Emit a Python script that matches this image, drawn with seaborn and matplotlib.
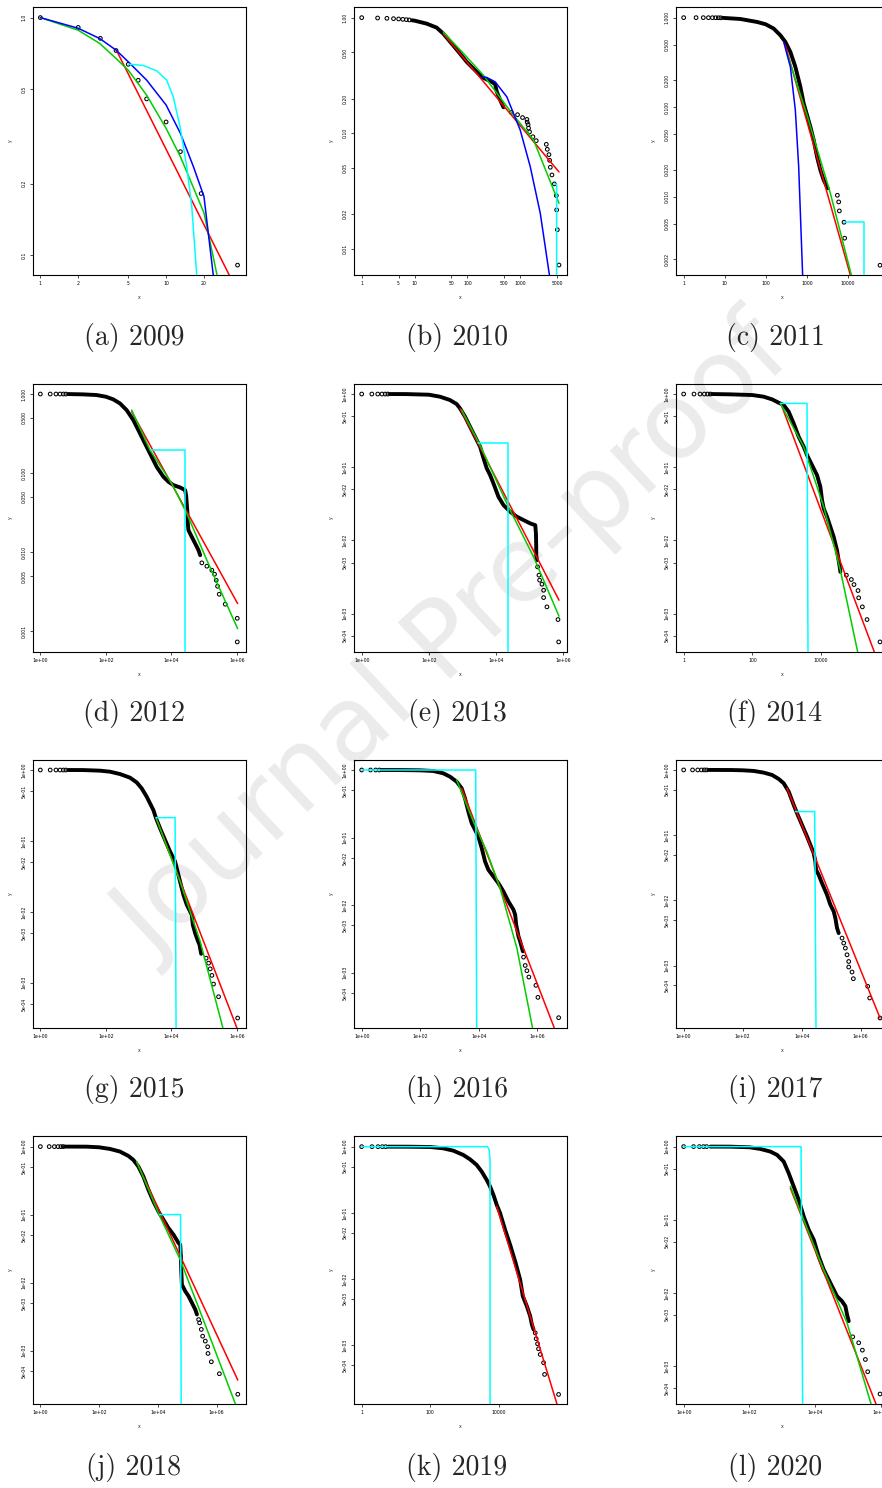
import numpy as np
import pandas as pd
import seaborn as sns
import matplotlib.pyplot as plt

# pts_* = individual hollow circles, body_* = dense part (thick band of overlapping circles)
pts_2009 = [(1, 1.0), (2, 0.909), (3, 0.818), (4, 0.727), (5, 0.636), (6, 0.545), (7, 0.455),
            (10, 0.364), (13, 0.273), (19, 0.182), (37, 0.091)]
body_2009 = []
red_2009 = [(4.04, 0.726), (34, 0.077)]
green_2009 = [(1, 1.0), (2, 0.885), (2.97, 0.778), (4, 0.673), (5, 0.601), (7, 0.472), (10, 0.342),
              (13, 0.26), (20, 0.151), (25.4, 0.0827)]
blue_2009 = [(1, 1.0), (2, 0.902), (2.97, 0.816), (4, 0.73), (5, 0.652), (7, 0.546), (10, 0.429),
             (13, 0.326), (16.5, 0.236), (20, 0.177), (23.9, 0.08)]
cyan_2009 = [(5, 0.637), (6.6, 0.629), (8.43, 0.597), (10.1, 0.546), (11.4, 0.465), (12.9, 0.348),
             (14.6, 0.236), (16, 0.161), (17.6, 0.08)]

pts_2010 = [(1, 1.0), (2, 0.993), (3, 0.987), (4, 0.98), (5, 0.974), (6, 0.967), (7, 0.961), (8, 0.955),
            (675, 0.152), (890, 0.145), (1107, 0.137), (1339, 0.132), (1358, 0.125), (1411, 0.119),
            (1440, 0.111), (1504, 0.103), (1740, 0.0935), (2013, 0.0865), (3118, 0.0804), (3258, 0.0728),
            (3500, 0.0655), (3606, 0.0585), (3715, 0.0509), (3993, 0.0437), (4425, 0.0366), (4830, 0.029),
            (4898, 0.0218), (5045, 0.0147), (5420, 0.00728)]
body_2010 = [(9, 0.948), (10, 0.942), (16.9, 0.888), (26.2, 0.82), (35, 0.728), (50.4, 0.597), (72.6, 0.489),
             (97.1, 0.415), (130, 0.363), (187, 0.308), (233, 0.292), (290, 0.279), (335, 0.266),
             (361, 0.229), (417, 0.194), (483, 0.168)]
red_2010 = [(35, 0.728), (5420, 0.0464)]
green_2010 = [(35, 0.752), (97.1, 0.458), (201, 0.318), (675, 0.152), (1791, 0.0876), (5420, 0.0249)]
blue_2010 = [(187, 0.308), (233, 0.304), (335, 0.279), (558, 0.207), (1000, 0.107), (1549, 0.0516),
             (2399, 0.0204), (3606, 0.0058)]
cyan_2010 = [(4295, 0.0366), (4898, 0.0362), (4898, 0.005)]

pts_2011 = [(1, 1.0), (2, 1.0), (3, 1.0), (4, 0.999), (5, 0.999), (6, 0.998), (7, 0.997), (8, 0.996),
            (5485, 0.01035), (5908, 0.00872), (6132, 0.00692), (7962, 0.00517), (8260, 0.00343),
            (59800, 0.00171)]
body_2011 = [(9, 0.995), (10, 0.991), (23.9, 0.966), (60.9, 0.895), (98.9, 0.843), (155, 0.754), (225, 0.635),
             (298, 0.535), (394, 0.414), (521, 0.282), (690, 0.169), (831, 0.11), (1002, 0.0814),
             (1208, 0.0604), (1456, 0.0429), (1754, 0.0279), (2115, 0.0198), (2549, 0.0153), (3190, 0.0124)]
red_2011 = [(298, 0.491), (11350, 0.00133)]
green_2011 = [(327, 0.397), (1002, 0.0814), (3704, 0.0109), (12000, 0.00133)]
blue_2011 = [(271, 0.535), (394, 0.282), (521, 0.0926), (628, 0.0216), (785, 0.0013)]
cyan_2011 = [(7962, 0.00517), (24900, 0.00517), (24900, 0.0012)]

pts_2012 = [(1, 1.0), (2, 1.0), (3, 1.0), (4, 1.0), (5, 1.0), (6, 0.999),
            (84900, 0.00733), (120800, 0.00665), (171700, 0.00592), (207000, 0.00527), (233000, 0.00442),
            (256000, 0.00371), (288000, 0.00294), (439000, 0.0022), (1023000, 0.00146), (1023000, 0.000733)]
body_2012 = [(7.03, 0.999), (20.2, 0.99), (51.8, 0.971), (100, 0.925), (168, 0.856), (268, 0.762), (429, 0.627),
             (687, 0.469), (1099, 0.318), (1758, 0.215), (2500, 0.161), (3557, 0.12), (5690, 0.0899),
             (8090, 0.0777), (11500, 0.0705), (18400, 0.0659), (26200, 0.0609), (28100, 0.0527),
             (29400, 0.0413), (30900, 0.0309), (31600, 0.0231), (33100, 0.019), (41900, 0.0156),
             (53000, 0.0129), (67100, 0.0106), (75500, 0.00916)]
red_2012 = [(611, 0.598), (1.05e6, 0.00224)]
green_2012 = [(611, 0.627), (2223, 0.195), (10240, 0.074), (29400, 0.0309), (120800, 0.00792), (1.05e6, 0.00108)]
blue_2012 = []
cyan_2012 = [(2330, 0.1955), (26800, 0.1955), (26800, 0.0005)]

pts_2013 = [(1, 1.0), (2, 1.0), (3, 1.0), (4, 1.0), (5, 1.0), (6, 1.0),
            (171000, 0.00436), (188000, 0.00336), (197000, 0.00287), (231000, 0.00253), (259000, 0.00209),
            (259000, 0.00166), (325000, 0.00124), (693000, 0.000832), (726000, 0.000412)]
body_2013 = [(6.85, 1.0), (21.5, 0.998), (100, 0.979), (213, 0.92), (423, 0.828), (669, 0.73), (842, 0.637),
             (1188, 0.49), (1675, 0.358), (2362, 0.261), (3327, 0.191), (4385, 0.125), (5264, 0.0964),
             (6622, 0.0782), (8324, 0.0602), (11740, 0.0395), (16560, 0.0304), (26200, 0.0247),
             (41400, 0.0211), (65500, 0.019), (103500, 0.0171), (146000, 0.0162), (153000, 0.0125),
             (156000, 0.00819), (156000, 0.0063), (164000, 0.00539)]
red_2013 = [(842, 0.637), (743000, 0.00153)]
green_2013 = [(944, 0.605), (3327, 0.201), (20800, 0.032), (130000, 0.00598), (743000, 0.000924)]
blue_2013 = []
cyan_2013 = [(2838, 0.212), (21800, 0.212), (21800, 0.0002)]

pts_2014 = [(1, 1.0), (2, 1.0), (3, 1.0), (4, 1.0), (5, 1.0), (6, 1.0),
            (54700, 0.00336), (76400, 0.00293), (91400, 0.0025), (119600, 0.00207), (125000, 0.00165),
            (160000, 0.00124), (219000, 0.000832), (523000, 0.000412)]
body_2014 = [(6.69, 1.0), (22.9, 0.99), (100, 0.969), (214, 0.92), (374, 0.846), (585, 0.761), (818, 0.708),
             (1143, 0.574), (1600, 0.397), (2237, 0.261), (3128, 0.191), (3910, 0.147), (4890, 0.119),
             (6110, 0.0964), (7640, 0.0782), (9570, 0.0541), (10700, 0.0356), (11960, 0.0274),
             (14960, 0.0211), (18700, 0.0154), (23400, 0.0112), (29200, 0.00738), (35000, 0.00436),
             (36600, 0.00373)]
red_2014 = [(731, 0.671), (357000, 0.0003)]
green_2014 = [(654, 0.745), (3128, 0.191), (11960, 0.0289), (36600, 0.00393), (117000, 0.0003)]
blue_2014 = []
cyan_2014 = [(654, 0.745), (3910, 0.745), (4180, 0.0003)]

pts_2015 = [(1, 1.0), (2, 1.0), (3, 1.0), (4, 1.0), (5, 1.0), (6, 1.0),
            (115000, 0.00222), (136000, 0.00189), (153000, 0.00157), (172000, 0.00127), (193000, 0.000958),
            (275000, 0.000635), (1.05e6, 0.000318)]
body_2015 = [(7.03, 1.0), (20.2, 0.998), (65.5, 0.979), (133, 0.947), (268, 0.878), (543, 0.78), (868, 0.67),
             (1236, 0.552), (1758, 0.421), (2223, 0.339), (2812, 0.273), (3396, 0.209), (4500, 0.151),
             (6400, 0.103), (9100, 0.0708), (12950, 0.0512), (18400, 0.0267), (23300, 0.0173),
             (29400, 0.0126), (37300, 0.0101), (41900, 0.00908), (45000, 0.00656), (53000, 0.00501),
             (62500, 0.00404), (71900, 0.00343), (80900, 0.00256)]
red_2015 = [(3396, 0.209), (1e6, 0.00023)]
green_2015 = [(3396, 0.213), (18400, 0.0267), (75500, 0.00382), (373000, 0.00023)]
blue_2015 = []
cyan_2015 = [(3396, 0.213), (12950, 0.213), (13900, 0.0002)]

pts_2016 = [(1, 1.0), (2, 1.0), (3, 1.0), (4, 1.0),
            (340000, 0.0017), (388000, 0.00128), (443000, 0.00107), (518000, 0.000863), (900000, 0.00065),
            (1.054e6, 0.000432), (5.39e6, 0.000216)]
body_2016 = [(4.72, 1.0), (20.1, 0.998), (100, 0.989), (279, 0.967), (615, 0.893), (1041, 0.797), (1762, 0.672),
             (2614, 0.536), (3399, 0.381), (4424, 0.242), (5754, 0.163), (7486, 0.13), (9740, 0.1035),
             (12670, 0.0696), (16490, 0.0442), (21450, 0.0333), (31830, 0.0265), (47200, 0.0211),
             (70100, 0.0159), (104000, 0.0113), (154500, 0.00853), (176000, 0.0072), (190600, 0.00512),
             (229000, 0.00344), (261000, 0.0029), (322600, 0.00207)]
red_2016 = [(2614, 0.536), (3.83e6, 0.000152)]
green_2016 = [(1762, 0.711), (6560, 0.172), (18800, 0.0621), (53900, 0.0178), (201000, 0.00232), (692000, 0.000152)]
blue_2016 = []
cyan_2016 = [(1, 1.0), (7890, 1.0), (8540, 0.0001)]

pts_2017 = [(1, 1.0), (2, 1.0), (3, 1.0), (4, 1.0), (5, 1.0), (6, 1.0),
            (233000, 0.00265), (265400, 0.00222), (302000, 0.00186), (344000, 0.00147), (392000, 0.00116),
            (392000, 0.000954), (508500, 0.0008), (564000, 0.000632), (1.726e6, 0.000483), (2.02e6, 0.00032),
            (4.52e6, 0.000158)]
body_2017 = [(7.04, 1.0), (38.2, 0.998), (100, 0.988), (236, 0.965), (515, 0.91), (987, 0.838), (1660, 0.728),
             (2455, 0.625), (3624, 0.466), (5355, 0.291), (7315, 0.205), (10260, 0.144), (15170, 0.0954),
             (19680, 0.0711), (25520, 0.053), (29060, 0.0395), (30620, 0.0295), (37690, 0.0247),
             (48870, 0.0184), (72230, 0.0122), (93700, 0.00859), (121600, 0.00679), (138400, 0.00537),
             (157800, 0.00377), (179600, 0.00316)]
red_2017 = [(3184, 0.524), (4.52e6, 0.000158)]
green_2017 = []
blue_2017 = []
cyan_2017 = [(6100, 0.23), (27600, 0.23), (30600, 0.0001)]

pts_2018 = [(1, 1.0), (2, 1.0), (3, 1.0), (4, 1.0), (5, 1.0), (6, 1.0),
            (243800, 0.00286), (263800, 0.00256), (300800, 0.00205), (334000, 0.00163), (412000, 0.00138),
            (495500, 0.00114), (508000, 0.000908), (660000, 0.000685), (1.24e6, 0.000457), (5.25e6, 0.000228)]
body_2018 = [(6.78, 1.0), (37.3, 0.998), (98.4, 0.978), (234, 0.924), (514, 0.845), (989, 0.73), (1466, 0.637),
             (2173, 0.509), (3221, 0.363), (4774, 0.231), (7076, 0.156), (10490, 0.111), (15540, 0.0839),
             (23030, 0.0633), (34140, 0.0506), (50600, 0.0382), (57700, 0.0361), (60800, 0.0243),
             (62400, 0.0155), (65800, 0.00935), (85500, 0.00747), (111100, 0.00631), (144300, 0.00504),
             (187600, 0.00402), (213800, 0.0034)]
red_2018 = [(1905, 0.589), (5.25e6, 0.000369)]
green_2018 = [(1905, 0.603), (10490, 0.105), (57700, 0.0217), (470000, 0.00205), (4.37e6, 0.000164)]
blue_2018 = []
cyan_2018 = [(11350, 0.1), (59200, 0.1), (62400, 0.0001)]

pts_2019 = [(1, 1.0), (2, 1.0), (3, 1.0), (4, 1.0), (5, 1.0),
            (115700, 0.00153), (123800, 0.00125), (135400, 0.00105), (144800, 0.000881), (162200, 0.000723),
            (203000, 0.000542), (217000, 0.000361), (557000, 0.00018)]
body_2019 = [(5.9, 1.0), (25.4, 0.998), (100, 0.988), (240, 0.944), (471, 0.87), (924, 0.749), (1449, 0.644),
             (2271, 0.529), (3178, 0.42), (4453, 0.314), (5575, 0.25), (6982, 0.187), (8737, 0.132),
             (10940, 0.0989), (15320, 0.0554), (21460, 0.0329), (30060, 0.0185), (42100, 0.00977),
             (50400, 0.00548), (66000, 0.00388), (82600, 0.00274), (92500, 0.00205), (103500, 0.00172)]
red_2019 = [(8737, 0.125), (499000, 0.000129)]
green_2019 = []
blue_2019 = []
cyan_2019 = [(1, 1.0), (4660, 1.0), (5250, 0.9), (5575, 0.62), (5575, 0.0001)]

pts_2020 = [(1, 1.0), (2, 1.0), (3, 1.0), (4, 1.0), (5, 1.0),
            (140300, 0.00251), (213600, 0.00208), (276500, 0.00165), (341500, 0.00123), (402000, 0.000837),
            (955000, 0.000415)]
body_2020 = [(6.49, 1.0), (26.4, 0.998), (102, 0.979), (216, 0.929), (436, 0.855), (697, 0.77), (1111, 0.625),
             (1578, 0.433), (2240, 0.285), (3183, 0.187), (4519, 0.111), (6417, 0.0731), (9105, 0.0534),
             (12930, 0.0316), (18360, 0.0208), (26070, 0.0152), (37020, 0.0111), (46770, 0.00901),
             (66390, 0.0077), (83900, 0.00658), (94360, 0.00507), (106000, 0.00411)]
red_2020 = [(1773, 0.27), (721000, 0.000303)]
green_2020 = [(1773, 0.285), (18360, 0.0208), (94360, 0.0039), (508000, 0.000303)]
blue_2020 = []
cyan_2020 = [(1, 1.0), (3750, 1.0), (4210, 0.0002)]

years = [2009, 2010, 2011, 2012, 2013, 2014, 2015, 2016, 2017, 2018, 2019, 2020]
letters = list('abcdefghijkl')

# tick sets
xt_2009 = ([1, 2, 5, 10, 20], ['1', '2', '5', '10', '20'])
xt_2010 = ([1, 5, 10, 50, 100, 500, 1000, 5000], ['1', '5', '10', '50', '100', '500', '1000', '5000'])
xt_dec = ([1, 10, 100, 1000, 10000], ['1', '10', '100', '1000', '10000'])
xt_sci = ([1, 1e2, 1e4, 1e6], ['1e+00', '1e+02', '1e+04', '1e+06'])
xt_plain = ([1, 100, 10000], ['1', '100', '10000'])
yt_2009 = ([1.0, 0.5, 0.2, 0.1], ['1.0', '0.5', '0.2', '0.1'])
yt_2010 = ([1, .5, .2, .1, .05, .02, .01], ['1.00', '0.50', '0.20', '0.10', '0.05', '0.02', '0.01'])
yt_2011 = ([1, .5, .2, .1, .05, .02, .01, .005, .002],
           ['1.000', '0.500', '0.200', '0.100', '0.050', '0.020', '0.010', '0.005', '0.002'])
yt_2012 = ([1, .5, .1, .05, .01, .005, .001], ['1.000', '0.500', '0.100', '0.050', '0.010', '0.005', '0.001'])
yt_sci = ([1, .5, .1, .05, .01, .005, .001, .0005],
          ['1e+00', '5e-01', '1e-01', '5e-02', '1e-02', '5e-03', '1e-03', '5e-04'])

xticks = [xt_2009, xt_2010, xt_dec, xt_sci, xt_sci, xt_plain, xt_sci, xt_sci, xt_sci, xt_sci, xt_plain, xt_sci]
yticks = [yt_2009, yt_2010, yt_2011, yt_2012, yt_sci, yt_sci, yt_sci, yt_sci, yt_sci, yt_sci, yt_sci, yt_sci]

xlims = [(0.874, 43.2), (0.715, 7690), (0.65, 99000), (0.597, 1.89e6), (0.59, 1.285e6), (0.598, 9.55e5),
         (0.597, 1.89e6), (0.546, 1.04e7), (0.55, 9.1e6), (0.562, 1.0e7), (0.597, 9.8e5), (0.583, 1.79e6)]
ylims = [(0.0827, 1.108), (0.00597, 1.236), (0.00133, 1.315), (0.000547, 1.339), (0.0003, 1.371),
         (0.0003, 1.371), (0.00023, 1.384), (0.000152, 1.406), (0.000111, 1.42), (0.000164, 1.432),
         (0.000129, 1.449), (0.000303, 1.396)]

data = globals()

sns.set_style('white')
plt.rcParams['font.family'] = ['DejaVu Sans']

W, H = 882, 1488
fig = plt.figure(figsize=(W / 100, H / 100), dpi=100)

# watermark behind the panels
fig.text(455 / W, 1 - 640 / H, 'Journal Pre-proof', rotation=43, fontsize=76, color='#ebebeb',
         ha='center', va='center', zorder=-5)

col_left = [33, 354, 676]
row_top = [7, 384, 760, 1136]
cap_x = [134, 457, 775]
cap_y = [337, 714, 1090, 1467]
pw, ph = 213, 268


def xy(pairs):
    return [p[0] for p in pairs], [p[1] for p in pairs]


for i, yr in enumerate(years):
    r, c = divmod(i, 3)
    ax = fig.add_axes([col_left[c] / W, 1 - (row_top[r] + ph) / H, pw / W, ph / H])
    ax.patch.set_alpha(0)
    ax.set_xscale('log')
    ax.set_yscale('log')

    body = data[f'body_{yr}']
    if body:
        bx, by = xy(body)
        sns.lineplot(x=bx, y=by, ax=ax, sort=False, estimator=None, color='black', linewidth=2.8)
    px, py = xy(data[f'pts_{yr}'])
    ax.scatter(px, py, s=7, facecolors='none', edgecolors='black', linewidths=0.75, zorder=3)

    for name, col in [('red', '#ff0000'), ('green', '#00cd00'), ('blue', '#0000ff'), ('cyan', '#00ffff')]:
        pairs = data[f'{name}_{yr}']
        if pairs:
            lx, ly = xy(pairs)
            sns.lineplot(x=lx, y=ly, ax=ax, sort=False, estimator=None, color=col,
                         linewidth=1.1, zorder=4)

    ax.set_xlim(*xlims[i])
    ax.set_ylim(*ylims[i])
    ax.minorticks_off()
    ax.set_xticks(xticks[i][0])
    ax.set_xticklabels(xticks[i][1])
    ax.set_yticks(yticks[i][0])
    ax.set_yticklabels(yticks[i][1], rotation=90, va='center')
    ax.tick_params(direction='out', length=2.5, width=0.5, labelsize=3.3, pad=2,
                   colors='black', bottom=True, left=True)
    for s in ax.spines.values():
        s.set_linewidth(0.8)
        s.set_color('black')
    ax.set_xlabel('x', fontsize=3.3)
    ax.set_ylabel('y', fontsize=3.3)
    ax.xaxis.set_label_coords(0.5, -0.075)
    ax.yaxis.set_label_coords(-0.095, 0.5)

    fig.text(cap_x[c] / W, 1 - cap_y[r] / H, f'({letters[i]}) {yr}', fontsize=20,
             family=['cmr10', 'DejaVu Serif'], ha='center', va='center')

fig.savefig('out.png', dpi=100)
